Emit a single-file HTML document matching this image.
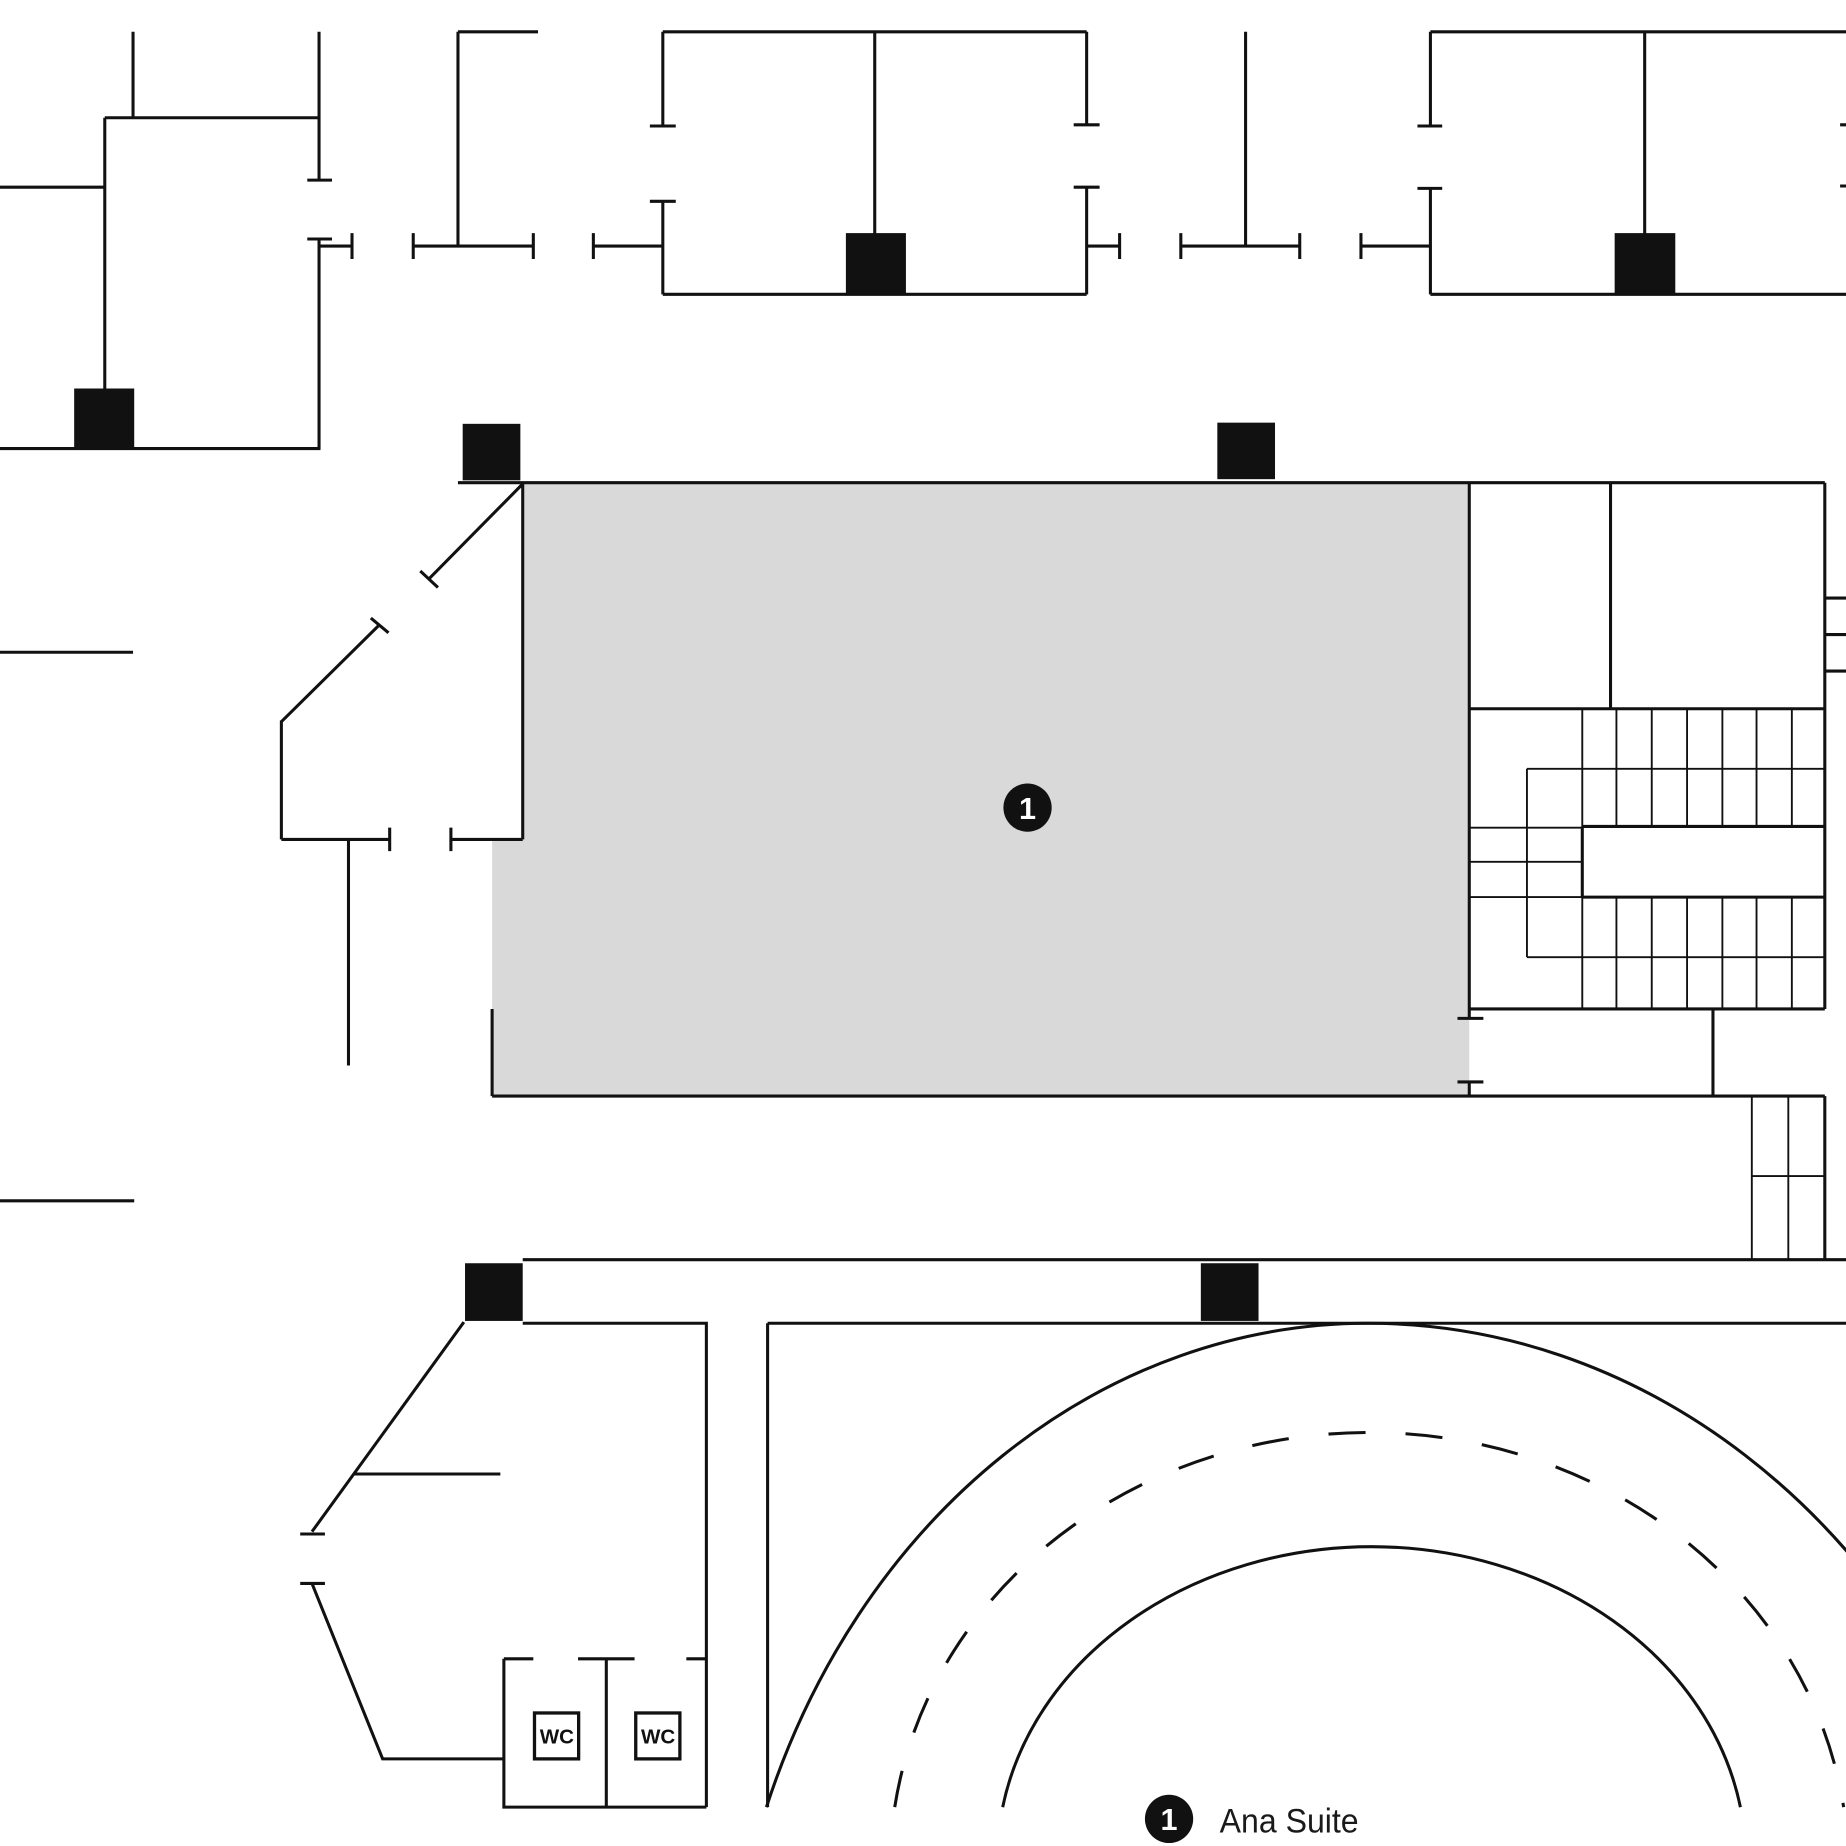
<!DOCTYPE html>
<html>
<head>
<meta charset="utf-8">
<style>
  html, body { margin: 0; padding: 0; background: #fff; }
  svg { display: block; }
</style>
</head>
<body>
<svg width="1846" height="1846" viewBox="0 0 1568 1568" xmlns="http://www.w3.org/2000/svg">
  <rect x="0" y="0" width="1568" height="1568" fill="#fff"/>

  <!-- Main room grey fill -->
  <polygon fill="#d9d9d9" points="444,410 1248,410 1248,931 418,931 418,713 444,713"/>

  <!-- Walls -->
  <g stroke="#111" stroke-width="2.6" fill="none" stroke-linecap="butt">
    <path d="
      M113,27V100
      M271,27V153 M261,153H282
      M89,100H272
      M89,100V331
      M0,159H89
      M0,381H272
      M271,203V382 M261,203H282
      M271,209H299 M299,198V220
      M389,27H457 M389,27V209 M351,209H453 M351,198V220 M453,198V220
      M504,198V220 M504,209H563
      M563,27H923 M563,27V107 M552,107H574 M563,171V250 M552,171H574 M563,250H923 M743,27V200
      M923,27V106 M912,106H934 M923,159V250 M912,159H934 M923,209H951 M951,198V220
      M1003,198V220 M1003,209H1104 M1104,198V220 M1058,27V209
      M1156,198V220 M1156,209H1215
      M1215,27H1568 M1215,27V107 M1204,107H1225 M1215,160V250 M1204,160H1225 M1215,250H1568 M1397,27V200
      M1563,106H1568 M1563,158H1568
      M0,554H113 M0,1020H114
      M389,410H1550
      M444,410V713 M383,713H444 M383,703V723
      M444,411L364.5,491.5 M357,485L372,499
      M322,531L239,613 M315,525L330,537.5
      M239,612V713 M239,713H331 M331,703V723
      M296,713V905
      M418,857V931 M418,931H1550
      M1248,410V865 M1238,865H1260 M1248,919V931 M1238,919H1260
      M1368,410V602 M1550,410V857 M1248,602H1550 M1248,857H1550
      M1550,508H1568 M1550,539H1568 M1550,570H1568
      M1455,857V931
      M1550,931V1070
      M444,1070H1568
      M444,1124H600V1535
      M394,1123L265,1301 M255,1303H276
      M301,1252H425
      M255,1345H276 M265,1345L325,1494H428
      M428,1409V1535H600 M428,1409H453 M491,1409H539 M583,1409H600 M515,1409V1535
      M652,1124H1568 M652,1124V1535
      M1344,702H1550 M1344,762H1550 M1344,702V762
    "/>
  </g>

  <!-- Stairs (thin lines) -->
  <g stroke="#111" stroke-width="1.6" fill="none">
    <path d="
      M1344,602V857
      M1373,602V702 M1403,602V702 M1433,602V702 M1463,602V702 M1492,602V702 M1522,602V702
      M1373,762V857 M1403,762V857 M1433,762V857 M1463,762V857 M1492,762V857 M1522,762V857
      M1297,653H1550 M1297,653V813 M1297,813H1550
      M1248,703H1344 M1248,732H1344 M1248,762H1344
      M1488,931V1070 M1519,931V1070 M1488,999H1550
    "/>
  </g>

  <!-- Arcs -->
  <g stroke="#111" stroke-width="2.6" fill="none">
    <path d="M651,1535 A546,635 0 0 1 1162,1124 A577,667 0 0 1 1695,1535"/>
    <path d="M851.7,1535 A317.9,266.4 0 0 1 1478.3,1535"/>
    <path d="M760,1535 A407,370 0 0 1 1566,1535" stroke-dasharray="31.5 34"/>
  </g>

  <!-- Pillars -->
  <g fill="#111">
    <rect x="63" y="330" width="51" height="52"/>
    <rect x="718.5" y="198" width="51" height="52"/>
    <rect x="1371.5" y="198" width="51.5" height="52"/>
    <rect x="393" y="360" width="49" height="48"/>
    <rect x="1034" y="359" width="49" height="48"/>
    <rect x="395" y="1073" width="49" height="49"/>
    <rect x="1020" y="1073" width="49" height="49"/>
  </g>

  <!-- WC icons -->
  <g stroke="#111" stroke-width="2.8" fill="#fff">
    <rect x="454" y="1455" width="37.5" height="39"/>
    <rect x="540" y="1455" width="37.5" height="39"/>
  </g>
  <g font-family="'Liberation Sans', Arial, sans-serif" font-weight="bold" font-size="17.5" fill="#111" text-anchor="middle">
    <text x="473" y="1481">WC</text>
    <text x="559" y="1481">WC</text>
  </g>

  <!-- Room marker -->
  <circle cx="872.8" cy="686" r="20.5" fill="#111"/>
  <text x="872.8" y="695.5" font-family="'Liberation Sans', Arial, sans-serif" font-weight="bold" font-size="26" fill="#fff" text-anchor="middle">1</text>

  <!-- Legend -->
  <circle cx="993" cy="1545" r="20.5" fill="#111"/>
  <text x="993" y="1554.5" font-family="'Liberation Sans', Arial, sans-serif" font-weight="bold" font-size="26" fill="#fff" text-anchor="middle">1</text>
  <text x="1036" y="1556.5" font-family="'Liberation Sans', Arial, sans-serif" font-size="29" fill="#1a1a1a" textLength="118" lengthAdjust="spacingAndGlyphs">Ana Suite</text>
</svg>
</body>
</html>
